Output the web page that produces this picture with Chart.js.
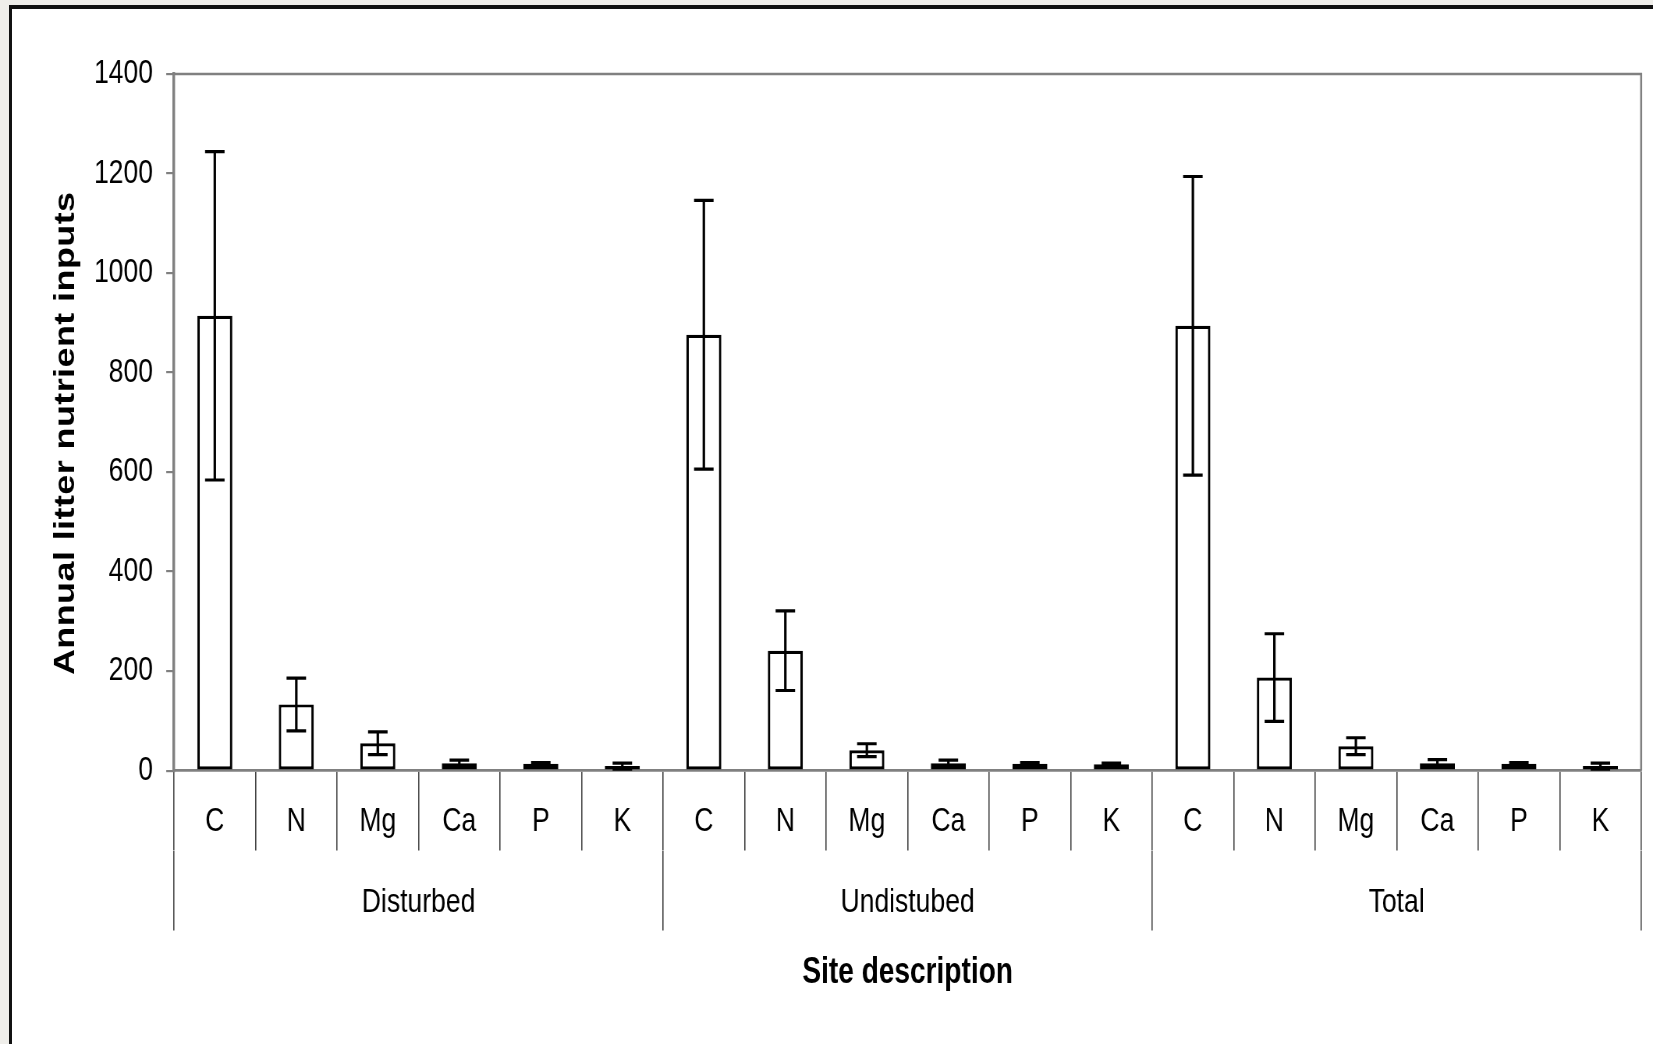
<!DOCTYPE html>
<html>
<head>
<meta charset="utf-8">
<script src="https://cdn.jsdelivr.net/npm/chart.js@4/dist/chart.umd.min.js"></script>
<style>
  html, body { margin: 0; padding: 0; width: 1653px; height: 1044px; overflow: hidden; background: #efeeea; }
  #frame { position: absolute; left: 9px; top: 5px; width: 1700px; height: 1100px; background: #fff;
           border-left: 3px solid #111; border-top: 4px solid #111; }
  #c { position: absolute; left: 0; top: 0; }
</style>
</head>
<body>
<div id="frame"></div>
<canvas id="c" width="2119" height="1044" style="width:1653px;height:1044px"></canvas>
<script>
// ---- data ----
const nutrients = ['C', 'N', 'Mg', 'Ca', 'P', 'K'];
const groups = ['Disturbed', 'Undistubed', 'Total'];
const disturbedMeans   = [914, 133, 55, 15, 14, 9];
const disturbedErrors  = [330, 53, 23, 6, 2, 6];
const undisturbedMeans = [876, 241, 41, 15, 14, 13];
const undisturbedErrors= [270, 80, 13, 6, 2, 2];
const totalMeans       = [894, 187, 49, 15, 14, 9];
const totalErrors      = [300, 88, 17, 7, 2, 6];
const yTicks = [0, 200, 400, 600, 800, 1000, 1200, 1400];

const categoryLabels = [...nutrients, ...nutrients, ...nutrients];
const means = [...disturbedMeans, ...undisturbedMeans, ...totalMeans];
const errors = [...disturbedErrors, ...undisturbedErrors, ...totalErrors];

Chart.defaults.font.family = "'Liberation Sans', Arial, Helvetica, sans-serif";
Chart.defaults.color = '#000';

const errorBars = {
  id: 'errorBars',
  afterDatasetsDraw(chart) {
    const ctx = chart.ctx;
    const ys = chart.scales.y;
    const meta = chart.getDatasetMeta(0);
    ctx.save();
    ctx.strokeStyle = '#000';
    ctx.lineWidth = 3.2;
    meta.data.forEach((el, i) => {
      const v = means[i], e = errors[i];
      const yHi = ys.getPixelForValue(v + e);
      const yLo = ys.getPixelForValue(Math.max(0, v - e));
      const x = el.x, hw = 12.5;
      ctx.beginPath();
      ctx.moveTo(x, yHi); ctx.lineTo(x, yLo);
      ctx.moveTo(x - hw, yHi); ctx.lineTo(x + hw, yHi);
      ctx.moveTo(x - hw, yLo); ctx.lineTo(x + hw, yLo);
      ctx.stroke();
    });
    ctx.restore();
  }
};

const plotFrame = {
  id: 'plotFrame',
  beforeDatasetsDraw(chart) {
    const {ctx, chartArea: a} = chart;
    ctx.save();
    ctx.strokeStyle = '#808080';
    ctx.lineWidth = 2.6;
    ctx.beginPath();
    ctx.moveTo(a.left, a.top);
    ctx.lineTo(a.right, a.top);
    ctx.lineTo(a.right, a.bottom);
    ctx.stroke();
    ctx.restore();
  }
};

// places the y-axis title slightly lower and a touch letter-spaced, as in the reference
const yTitleStyle = {
  id: 'yTitleStyle',
  beforeDraw(chart) {
    const s = chart.scales.y;
    if (s && !s.__styled) {
      const orig = s.drawTitle;
      s.drawTitle = function () {
        const c = this.ctx;
        c.save();
        c.translate(0, 11);
        if ('letterSpacing' in c) c.letterSpacing = '0.4px';
        orig.call(this);
        c.restore();
      };
      s.__styled = true;
    }
  }
};

new Chart(document.getElementById('c'), {
  type: 'bar',
  data: {
    labels: categoryLabels,
    datasets: [{
      data: means,
      backgroundColor: '#fff',
      borderColor: '#000',
      borderWidth: 3.2,
      borderSkipped: false,
      barPercentage: 0.43,
      categoryPercentage: 1
    }]
  },
  options: {
    responsive: false,
    devicePixelRatio: 1,
    animation: false,
    layout: { padding: { left: 50, top: 74, right: 15.2, bottom: 49.4 } },
    plugins: { legend: { display: false }, tooltip: { enabled: false }, title: { display: false } },
    scales: {
      x: {
        type: 'category',
        position: 'bottom',
        weight: 0,
        offset: true,
        grid: { offset: true, drawOnChartArea: false, drawTicks: true, tickLength: 80, color: '#444', lineWidth: 1.6 },
        border: { display: true, color: '#808080', width: 2.7 },
        ticks: { padding: -49, font: { size: 34 }, color: '#000', autoSkip: false, maxRotation: 0, minRotation: 0 },
        afterFit(s) { s.height = 80; }
      },
      xg: {
        type: 'category',
        labels: groups,
        position: 'bottom',
        weight: 1,
        offset: true,
        grid: { offset: true, drawOnChartArea: false, drawTicks: true, tickLength: 80, color: '#444', lineWidth: 1.6 },
        border: { display: false },
        ticks: { padding: -48.5, font: { size: 34 }, color: '#000', autoSkip: false, maxRotation: 0, minRotation: 0 },
        title: { display: true, text: 'Site description', font: { size: 36, weight: 'bold' }, color: '#000', padding: { top: 0, bottom: 0 } },
        afterFit(s) { s.height = 144; }
      },
      y: {
        type: 'linear',
        position: 'left',
        min: 0,
        max: 1400,
        afterBuildTicks(s) { s.ticks = yTicks.map(v => ({ value: v })); },
        grid: { drawOnChartArea: false, drawTicks: true, tickLength: 10, color: '#808080', lineWidth: 2.2 },
        border: { display: true, color: '#808080', width: 3.4 },
        ticks: { padding: 17, font: { size: 34 }, color: '#000', callback: v => String(v) },
        title: { display: true, text: 'Annual litter nutrient inputs', font: { size: 36, weight: 'bold' }, color: '#000', padding: { top: 13, bottom: 0 } },
        afterFit(s) { s.width = 173.1; }
      }
    }
  },
  plugins: [plotFrame, errorBars, yTitleStyle]
});
</script>
</body>
</html>
